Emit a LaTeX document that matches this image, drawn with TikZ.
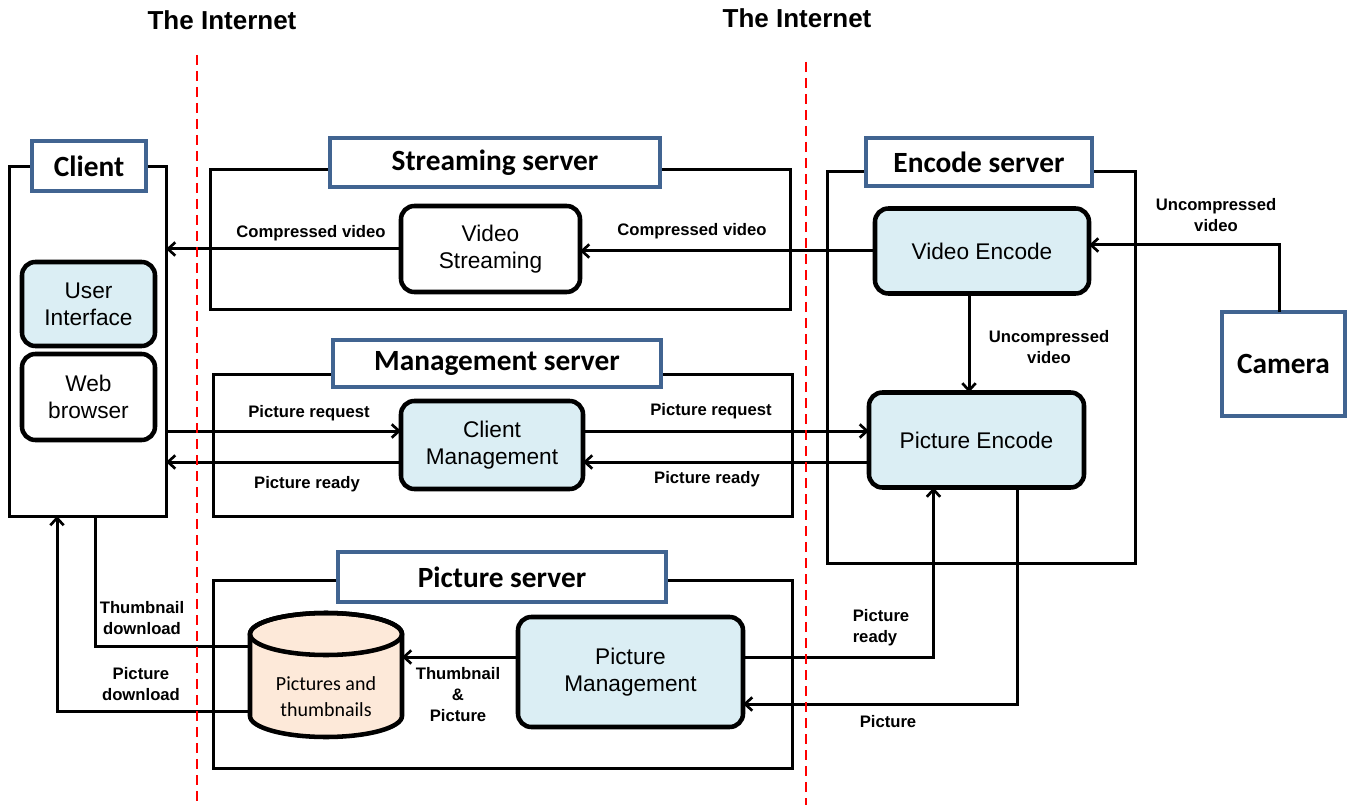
\documentclass[tikz,border=0pt]{standalone}
\usepackage{fontspec}
\setmainfont{Liberation Sans}
\newfontfamily\calfont{Carlito}
\usetikzlibrary{arrows.meta,calc}
\definecolor{lblue}{RGB}{219,238,244}
\definecolor{tblue}{RGB}{65,100,145}
\definecolor{peach}{RGB}{253,233,217}
\begin{document}
\begin{tikzpicture}[x=0.75pt,y=-0.75pt,
  sz/.style 2 args={minimum width={#1*0.75pt}, minimum height={#2*0.75pt}, inner sep=0pt, outer sep=0pt},
  outer/.style={draw, line width=2.25pt},
  tbox/.style={draw=tblue, line width=3pt, fill=white, font=\calfont\bfseries\fontsize{22}{26}\selectfont},
  rbox/.style={draw, line width=3.4pt, rounded corners=10pt, align=center, font=\fontsize{17}{20}\selectfont},
  lbl/.style={font=\bfseries\fontsize{12.5}{15.75}\selectfont, align=center, inner sep=0pt},
  arr/.style={line width=2.25pt, -{Straight Barb[length=5.5pt,width=10pt,line width=2pt]}},
  ln/.style={line width=2.25pt},
  inet/.style={font=\bfseries\fontsize{19.5}{23}\selectfont, inner sep=0pt},
  sep/.style={draw=red, line width=2pt, dash pattern=on 7.5pt off 4.5pt}
]
\useasboundingbox (0,0) rectangle (1349,805);

% outer boxes
\node[outer, sz={157}{349}] (client) at (87.5,341.5) {};
\node[outer, sz={580}{140}] (ss) at (500,240) {};
\node[outer, sz={579}{141}] (ms) at (502.5,445.5) {};
\node[outer, sz={308}{391}] (es) at (981,367.5) {};
\node[outer, sz={579}{188}] (ps) at (502.5,674) {};

% title boxes
\node[tbox, sz={114}{50}] (clientT) at (89,166) {Client};
\node[tbox, sz={330}{49}] (ssT) at (495,162.5) {Streaming server};
\node[tbox, sz={328}{47}] (msT) at (497,363.5) {Management server};
\node[tbox, sz={226}{48}] (esT) at (979,162) {Encode server};
\node[tbox, sz={328}{50}] (psT) at (502,577) {Picture server};
\node[tbox, sz={123}{103}] (cam) at (1283.5,364) {Camera};

% inner boxes
\node[rbox, fill=lblue, sz={133}{84}] (ui) at (88.5,304) {User\\Interface};
\node[rbox, fill=white, sz={133}{86}] (wb) at (88.5,397) {Web\\browser};
\node[rbox, fill=white, sz={179}{86}] (vs) at (490.5,249) {Video\\Streaming};
\node[rbox, fill=lblue, sz={182}{88}] (cm) at (492,445) {Client\\Management};
\node[rbox, fill=lblue, sz={214}{85}] (ve) at (982,251) {Video Encode};
\node[rbox, fill=lblue, sz={215}{95}] (pe) at (976.5,440) {Picture Encode};
\node[rbox, fill=lblue, sz={225}{110}] (pm) at (630.5,672) {Picture\\Management};

% cylinder
\path[draw, line width=3.4pt, fill=peach] (250,634) -- (250,716)
  arc[start angle=180, end angle=360, x radius=57pt, y radius=15.75pt]
  -- (402,634)
  arc[start angle=0, end angle=180, x radius=57pt, y radius=15.75pt] -- cycle;
\draw[line width=3.4pt] (326,634) ellipse [x radius=57pt, y radius=15.75pt];
\node[sz={152}{124}] (db) at (326,675) {};
\node[align=center, inner sep=0pt, font=\calfont\fontsize{15}{19.5}\selectfont] (dbt) at ($(db.center)+(0,22)$) {Pictures and\\thumbnails};

% helper coordinates
\coordinate (rq) at ($(cm.west)+(0,-14)$);
\coordinate (rd) at ($(cm.west)+(0,17)$);
\coordinate (ucx) at (969,300);
\coordinate (vein) at ($(ve.east)+(0,-6)$);
\coordinate (camtop) at ($(cam.north)+(-4,0)$);
\coordinate (tp) at ($(pm.west)+(0,-15)$);
\coordinate (prd) at ($(pe.south)+(-43,0)$);
\coordinate (pic) at ($(pe.south)+(41,0)$);
\coordinate (pmin) at ($(pm.east)+(0,32)$);
\coordinate (td) at ($(db.west)+(0,-29)$);
\coordinate (pd) at ($(db.west)+(0,36)$);
\coordinate (tdx) at ($(client.south)+(7.5,0)$);
\coordinate (pdx) at ($(client.south)+(-30.5,0)$);

% connectors
\draw[arr] (vs.west) -- (vs.west -| client.east);
\draw[arr] (ve.west) -- (ve.west -| vs.east);
\draw[arr] (rq -| client.east) -- (rq);
\draw[arr] (rd) -- (rd -| client.east);
\draw[arr] (rq -| cm.east) -- (rq -| pe.west);
\draw[arr] (rd -| pe.west) -- (rd -| cm.east);
\draw[arr] (ve.south -| ucx) -- (pe.north -| ucx);
\draw[arr] (camtop) |- (vein);
\draw[arr] (tp) -- (tp -| db.east);
\draw[arr] (tp -| pm.east) -| (prd);
\draw[arr] (pic) |- (pmin);
\draw[ln] (td) -| (tdx);
\draw[arr] (pd) -| (pdx);

% labels
\node[lbl] (l1) at (311,233) {Compressed video};
\node[lbl] (l2) at (692,231) {Compressed video};
\node[lbl] (l3) at (1216,215) {Uncompressed\\video};
\node[lbl] (l4) at (1049,347) {Uncompressed\\video};
\node[lbl] (l5) at (309,413) {Picture request};
\node[lbl] (l6) at (307,484) {Picture ready};
\node[lbl] (l7) at (711,411) {Picture request};
\node[lbl] (l8) at (707,479) {Picture ready};
\node[lbl] (l9) at (142,618) {Thumbnail\\download};
\node[lbl] (l10) at (141,684) {Picture\\download};
\node[lbl] (l11) at (458,695) {Thumbnail\\\&\\Picture};
\node[lbl, align=left] (l12) at (881,628) {Picture\\ready};
\node[lbl] (l13) at (888,722) {Picture};

% internet
\node[inet] (i1) at (222,20) {The Internet};
\node[inet] (i2) at (797,18) {The Internet};
\coordinate (d1a) at (197,55);
\coordinate (d1b) at (197,805);
\coordinate (d2a) at (806,62);
\coordinate (d2b) at (806,805);
\draw[sep] (d1a) -- (d1b);
\draw[sep] (d2a) -- (d2b);
\end{tikzpicture}
\end{document}
